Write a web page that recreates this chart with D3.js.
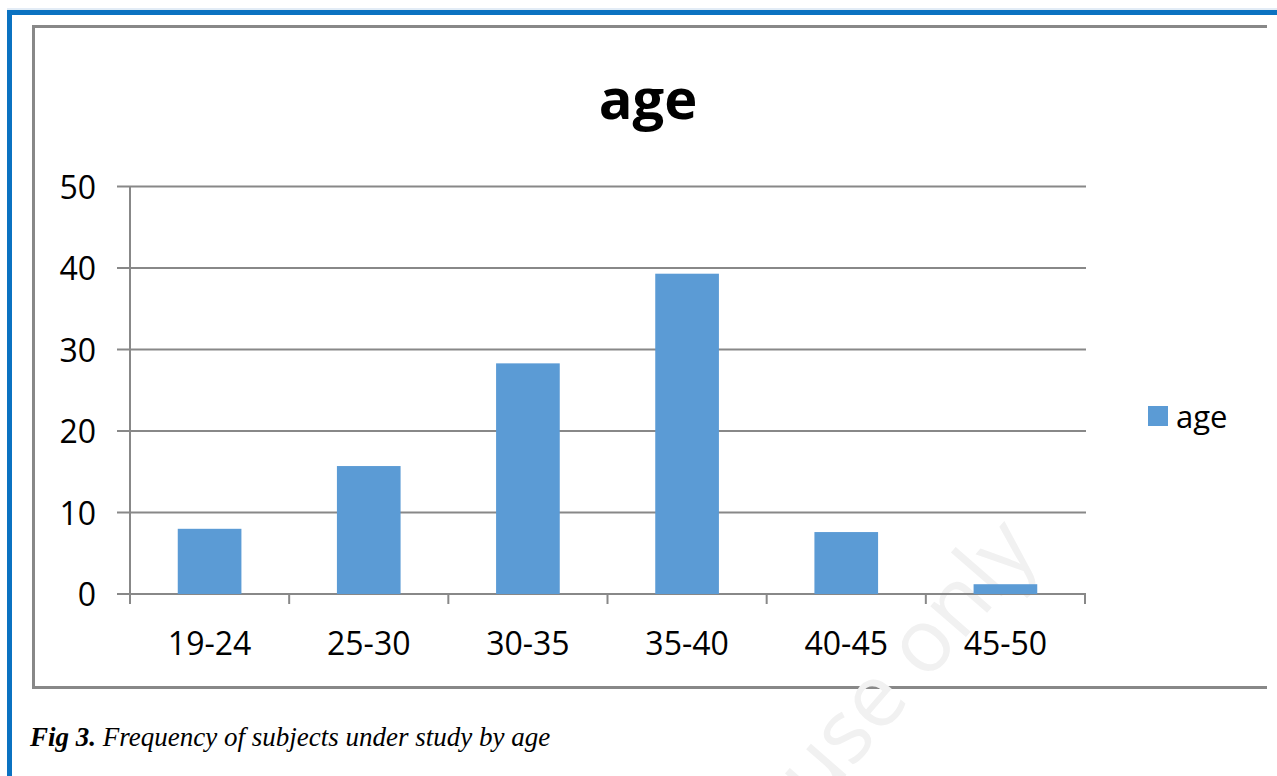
<!DOCTYPE html>
<html>
<head>
<meta charset="utf-8">
<script src="https://cdn.jsdelivr.net/npm/d3@7"></script>
<style>
  body { margin: 0; background: #fff; }
  svg { display: block; }
</style>
</head>
<body>
<svg id="chart" width="1277" height="776"></svg>
<script>
// chart values (percent of subjects)
var ageGroups = ['19-24', '25-30', '30-35', '35-40', '40-45', '45-50'];
var ageValues = [8.0, 15.7, 28.3, 39.3, 7.6, 1.2];
var yTicks = [0, 10, 20, 30, 40, 50];
var seriesName = 'age';
var captionBold = 'Fig 3.';
var captionText = ' Frequency of subjects under study by age';

var svg = d3.select('#chart'),
    W = 1277, H = 776;

var grey = '#888888',
    barColor = '#5b9bd5',
    chartFont = '"Open Sans", sans-serif';

// outer blue page frame
svg.append('line').attr('x1', 7).attr('x2', W).attr('y1', 9).attr('y2', 9)
  .attr('stroke', '#c6d9ec').attr('stroke-width', 1);
svg.append('line').attr('x1', 7).attr('x2', W).attr('y1', 12.5).attr('y2', 12.5)
  .attr('stroke', '#0b72c1').attr('stroke-width', 5);
svg.append('line').attr('x1', 9.5).attr('x2', 9.5).attr('y1', 10).attr('y2', H)
  .attr('stroke', '#0b72c1').attr('stroke-width', 5);

// grey chart area border (open on the right)
svg.append('path')
  .attr('d', 'M1267,26.5 H33.5 V687.5 H1267')
  .attr('fill', 'none').attr('stroke', grey).attr('stroke-width', 3);

// faint watermark
svg.append('text')
  .attr('transform', 'translate(1040,552) rotate(-49)')
  .attr('text-anchor', 'end')
  .attr('font-family', chartFont)
  .attr('font-size', 88)
  .attr('fill', '#f1f1f1')
  .text('use only');

var x = d3.scaleBand()
  .domain(ageGroups)
  .range([130, 1085])
  .paddingInner(0.6)
  .paddingOuter(0.3);

// band used only for tick positions
var xTick = d3.scaleBand().domain(ageGroups).range([130, 1085]);

var y = d3.scaleLinear()
  .domain([0, 50])
  .range([594, 186.5]);

// gridlines
svg.append('g')
  .selectAll('line')
  .data(yTicks)
  .join('line')
  .attr('x1', 117).attr('x2', 1086)
  .attr('y1', function(d) { return y(d); })
  .attr('y2', function(d) { return y(d); })
  .attr('stroke', grey).attr('stroke-width', 2);

// y axis
var yAxis = d3.axisLeft(y).tickValues(yTicks).tickSize(0).tickPadding(34);
var gy = svg.append('g').attr('transform', 'translate(130,0)').call(yAxis);
gy.select('.domain').attr('stroke', grey).attr('stroke-width', 2)
  .attr('d', 'M0,' + y(50) + 'V' + (y(0) + 10));
gy.selectAll('text')
  .attr('font-family', chartFont).attr('font-size', 32)
  .attr('fill', '#000').attr('dy', '0.36em');

// bars
svg.append('g')
  .selectAll('rect')
  .data(ageValues)
  .join('rect')
  .attr('x', function(d, i) { return x(ageGroups[i]); })
  .attr('width', x.bandwidth())
  .attr('y', function(d) { return y(d); })
  .attr('height', function(d) { return y(0) - y(d); })
  .attr('fill', barColor);

// x axis
var xAxis = d3.axisBottom(xTick).tickSize(0).tickPadding(38);
var gx = svg.append('g').attr('transform', 'translate(0,' + y(0) + ')').call(xAxis);
gx.select('.domain').remove();
gx.selectAll('text')
  .attr('font-family', chartFont).attr('font-size', 32).attr('fill', '#000');

// category separator ticks
var bounds = ageGroups.map(function(g) { return xTick(g); }).concat([1085]);
svg.append('g')
  .selectAll('line')
  .data(bounds)
  .join('line')
  .attr('x1', function(d) { return d; }).attr('x2', function(d) { return d; })
  .attr('y1', y(0)).attr('y2', y(0) + 10)
  .attr('stroke', grey).attr('stroke-width', 2);

// title
svg.append('text')
  .attr('x', 648).attr('y', 119)
  .attr('text-anchor', 'middle')
  .attr('font-family', chartFont).attr('font-weight', 'bold')
  .attr('font-size', 56)
  .text(seriesName);

// legend
svg.append('rect')
  .attr('x', 1148).attr('y', 406).attr('width', 20).attr('height', 20)
  .attr('fill', barColor);
svg.append('text')
  .attr('x', 1176).attr('y', 428)
  .attr('font-family', chartFont).attr('font-size', 31)
  .text(seriesName);

// caption under the figure
var cap = svg.append('text')
  .attr('x', 30).attr('y', 746)
  .attr('font-family', '"Liberation Serif", serif')
  .attr('font-size', 27).attr('font-style', 'italic');
cap.append('tspan').attr('font-weight', 'bold').text(captionBold);
cap.append('tspan').text(captionText);
</script>
</body>
</html>
